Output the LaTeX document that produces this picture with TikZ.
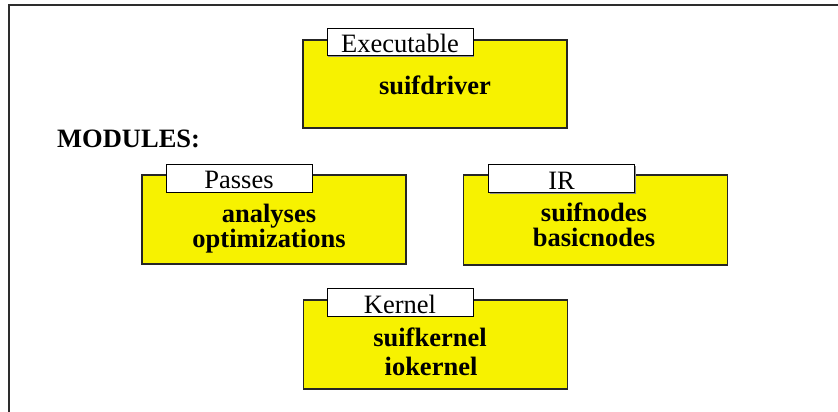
\documentclass[tikz,border=0pt]{standalone}
\usepackage{fontspec}
\setmainfont{Liberation Serif}
\definecolor{modyellow}{RGB}{247,242,0}
\definecolor{framegray}{RGB}{45,45,45}
\tikzset{
  module/.style={rectangle, draw=black!85, line width=1.3pt, fill=modyellow,
    inner sep=0pt, minimum width=264pt, minimum height=89pt},
  tabbox/.style={rectangle, draw=black, line width=1pt, fill=white,
    inner sep=0pt, minimum width=146pt, minimum height=28pt},
  tabshadow/.style={rectangle, fill=black!45, inner sep=0pt,
    minimum width=146pt, minimum height=28pt},
  tablabel/.style={font=\fontsize{26.5}{28}\selectfont, anchor=base, inner sep=0pt},
  bodylabel/.style={font=\fontsize{26.5}{28}\selectfont\bfseries, anchor=base, inner sep=0pt},
}
\begin{document}
\begin{tikzpicture}[x=1pt, y=-1pt]
  \useasboundingbox (0,0) rectangle (838,412);
  % outer frame (top and left edges)
  \draw[framegray, line width=2pt] (9,412) -- (9,5) -- (838,5);

  % Executable
  \node[module, minimum height=88pt] (exebox) at (435,84) {};
  \node[tabshadow] (exeshadow) at (401,43.5) {};
  \node[tabbox, minimum height=27pt] (exetab) at (400,42.5) {};
  \node[tablabel] (exename) at (400,53) {Executable};
  \node[bodylabel] (suifdriver) at (435,95) {suifdriver};

  \node[bodylabel, anchor=base west] (modules) at (57,147) {MODULES:};

  % Passes
  \node[module] (passbox) at (274,219.5) {};
  \node[tabshadow] (passshadow) at (240,179) {};
  \node[tabbox] (passtab) at (239,178) {};
  \node[tablabel] (passname) at (239,188) {Passes};
  \node[bodylabel] (analyses) at (269,222) {analyses};
  \node[bodylabel] (optim) at (269,247) {optimizations};

  % IR
  \node[module, minimum height=90pt] (irbox) at (595.5,220) {};
  \node[tabshadow] (irshadow) at (562.5,179.5) {};
  \node[tabbox] (irtab) at (561.5,178.5) {};
  \node[tablabel] (irname) at (561.5,189) {IR};
  \node[bodylabel] (suifnodes) at (594,221) {suifnodes};
  \node[bodylabel] (basicnodes) at (594,246) {basicnodes};

  % Kernel
  \node[module] (kernbox) at (435.5,344.5) {};
  \node[tabshadow] (kernshadow) at (401,303) {};
  \node[tabbox] (kerntab) at (400,302) {};
  \node[tablabel] (kernname) at (400,313) {Kernel};
  \node[bodylabel] (suifkernel) at (430,346.5) {suifkernel};
  \node[bodylabel] (iokernel) at (431,375) {iokernel};
\end{tikzpicture}
\end{document}
